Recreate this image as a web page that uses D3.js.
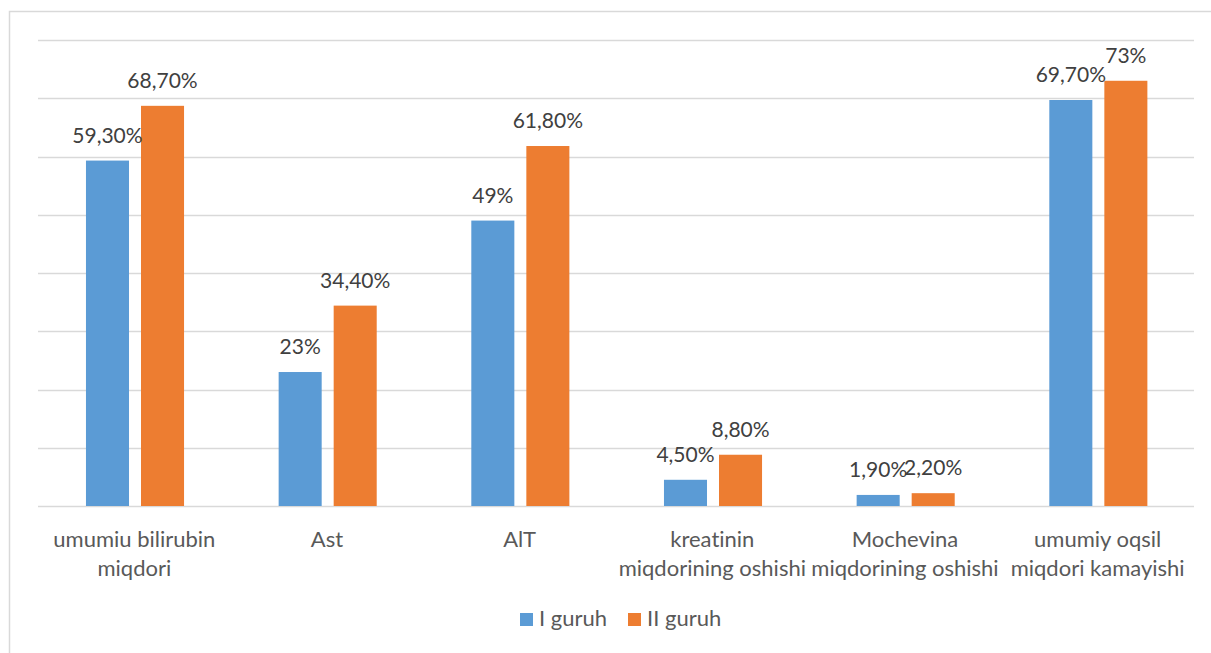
<!DOCTYPE html>
<html>
<head>
<meta charset="utf-8">
<script src="https://cdn.jsdelivr.net/npm/d3@7"></script>
<style>
  html, body { margin: 0; padding: 0; background: #fff; }
  svg { display: block; }
  text { font-variant-ligatures: none; font-feature-settings: "liga" 0; }
</style>
</head>
<body>
<svg id="chart"></svg>
<script>
const categories = [
  ["umumiu bilirubin", "miqdori"],
  ["Ast"],
  ["AlT"],
  ["kreatinin", "miqdorining oshishi"],
  ["Mochevina", "miqdorining oshishi"],
  ["umumiy oqsil", "miqdori kamayishi"]
];
const seriesNames = ["I guruh", "II guruh"];
const group1 = [59.3, 23, 49, 4.5, 1.9, 69.7];
const group2 = [68.7, 34.4, 61.8, 8.8, 2.2, 73];
const yTicks = [0, 10, 20, 30, 40, 50, 60, 70, 80];

const colors = ["#5B9BD5", "#ED7D31"];
const W = 1211, H = 653;
const plot = { left: 38, right: 1194, top: 40, bottom: 506 };
const FONT = "Lato, 'Open Sans', sans-serif";

const svg = d3.select("#chart").attr("width", W).attr("height", H);
svg.append("rect").attr("width", W).attr("height", H).attr("fill", "#fff");

// chart frame (only top and left edges show in the crop)
svg.append("path")
  .attr("d", `M9.5,${H} V11.5 H${W}`)
  .attr("fill", "none")
  .attr("stroke", "#d9d9d9")
  .attr("stroke-width", 1.5);

const keys = d3.range(categories.length);
const x = d3.scaleBand().domain(keys).range([plot.left, plot.right]);
const step = x.step();
const xSub = d3.scaleBand().domain(seriesNames)
  .range([step * 0.249, step * 0.758]).paddingInner(0.218);
const y = d3.scaleLinear().domain([0, 80]).range([plot.bottom, plot.top]);

// gridlines
svg.append("g").selectAll("line")
  .data(yTicks)
  .join("line")
  .attr("x1", plot.left).attr("x2", plot.right)
  .attr("y1", d => Math.round(y(d)) + 0.5).attr("y2", d => Math.round(y(d)) + 0.5)
  .attr("stroke", "#d9d9d9")
  .attr("stroke-width", d => d === 0 ? 1.6 : 1.3);

const fmt = v => Number.isInteger(v) ? `${v}%` : v.toFixed(2).replace(".", ",") + "%";

const rows = [];
keys.forEach(i => {
  rows.push({ i, s: 0, v: group1[i] });
  rows.push({ i, s: 1, v: group2[i] });
});

svg.append("g").selectAll("rect")
  .data(rows)
  .join("rect")
  .attr("x", d => x(d.i) + xSub(seriesNames[d.s]))
  .attr("width", xSub.bandwidth())
  .attr("y", d => y(d.v))
  .attr("height", d => y(0) - y(d.v))
  .attr("fill", d => colors[d.s]);

// data labels
svg.append("g").selectAll("text")
  .data(rows)
  .join("text")
  .attr("x", d => x(d.i) + xSub(seriesNames[d.s]) + xSub.bandwidth() / 2)
  .attr("y", d => y(d.v) - 18)
  .attr("text-anchor", "middle")
  .attr("font-family", FONT)
  .attr("font-size", "21px")
  .attr("fill", "#404040")
  .text(d => fmt(d.v));

// category labels
const catG = svg.append("g");
keys.forEach(i => {
  const t = catG.append("text")
    .attr("x", x(i) + step / 2)
    .attr("y", 547)
    .attr("text-anchor", "middle")
    .attr("font-family", FONT)
    .attr("font-size", "22px")
    .attr("fill", "#595959");
  categories[i].forEach((line, k) => {
    t.append("tspan")
      .attr("x", x(i) + step / 2)
      .attr("dy", k === 0 ? 0 : 28.5)
      .text(line);
  });
});

// legend
const legend = svg.append("g");
const legendX = [520, 628];
seriesNames.forEach((name, s) => {
  legend.append("rect")
    .attr("x", legendX[s]).attr("y", 613)
    .attr("width", 13).attr("height", 13)
    .attr("fill", colors[s]);
  legend.append("text")
    .attr("x", legendX[s] + 19).attr("y", 626)
    .attr("font-family", FONT)
    .attr("font-size", "22px")
    .attr("fill", "#595959")
    .text(name);
});
</script>
</body>
</html>
